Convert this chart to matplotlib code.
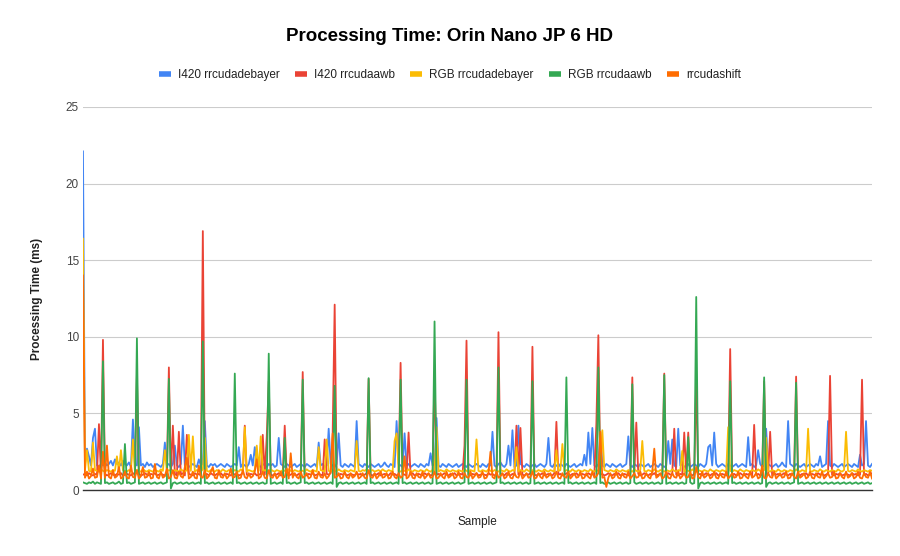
import numpy as np
import matplotlib.pyplot as plt

plt.rcParams['font.family'] = ['Liberation Sans', 'DejaVu Sans']

# per-sample processing time (ms) (396 samples)
i420_debayer = [
    22.1, 1.7, 2.7, 2.2, 1.6, 3.4, 4.0, 1.6, 1.5, 1.7, 1.6, 1.8, 1.6, 1.7, 1.9, 1.6, 2.0, 1.7, 1.8, 1.6, 1.9, 1.7,
    1.6, 1.8, 1.5, 4.6, 1.7, 1.6, 4.1, 1.6, 1.7, 1.5, 1.8, 1.6, 1.7, 1.5, 1.6, 1.7, 1.6, 1.5, 1.7, 3.1, 1.6, 1.7,
    1.5, 1.7, 2.9, 1.6, 1.5, 1.7, 4.2, 1.6, 1.7, 1.5, 1.6, 1.7, 1.6, 1.5, 2.0, 1.6, 1.7, 4.5, 1.6, 1.5, 1.7, 1.6,
    1.7, 1.5, 1.6, 1.7, 1.6, 1.5, 1.7, 1.6, 1.5, 1.6, 1.7, 1.6, 2.8, 1.5, 1.7, 1.6, 1.5, 1.7, 2.3, 1.6, 2.8, 1.7,
    1.6, 1.5, 1.7, 1.6, 1.5, 1.7, 1.6, 1.7, 1.5, 1.6, 3.4, 1.7, 1.6, 1.5, 1.7, 1.6, 1.5, 1.6, 1.7, 1.5, 1.6, 1.7,
    1.6, 1.5, 1.7, 1.6, 1.5, 1.6, 1.7, 1.5, 3.1, 1.6, 1.7, 1.5, 1.6, 4.0, 1.7, 1.6, 1.5, 1.7, 3.7, 1.6, 1.5, 1.7,
    1.6, 1.5, 1.7, 1.6, 1.5, 4.5, 1.7, 1.6, 1.5, 1.7, 1.6, 1.5, 1.7, 1.6, 1.5, 1.6, 1.7, 1.5, 1.6, 1.8, 1.6, 1.5,
    1.7, 1.6, 1.5, 4.5, 1.7, 1.6, 1.5, 3.7, 1.6, 1.7, 1.5, 1.6, 1.7, 1.6, 1.5, 1.7, 1.6, 1.5, 1.7, 1.6, 2.4, 1.6,
    1.7, 4.7, 1.6, 1.5, 1.7, 1.6, 1.5, 1.7, 1.6, 1.5, 1.6, 1.7, 1.5, 1.6, 1.7, 1.6, 1.5, 1.7, 1.6, 1.5, 1.6, 1.7,
    1.6, 1.5, 1.7, 1.6, 1.5, 1.7, 1.6, 3.8, 1.6, 1.5, 1.7, 1.8, 1.6, 1.5, 1.7, 2.9, 1.6, 3.9, 1.5, 1.6, 4.2, 1.7,
    1.6, 1.5, 1.7, 1.6, 1.5, 1.6, 1.7, 1.5, 1.6, 1.7, 1.6, 1.5, 1.7, 3.4, 1.6, 1.5, 1.7, 1.6, 1.5, 1.7, 1.6, 1.5,
    1.7, 1.6, 1.5, 1.6, 1.7, 1.5, 1.6, 1.7, 1.6, 2.3, 1.6, 3.75, 1.7, 4.05, 1.6, 1.5, 1.7, 3.8, 1.6, 1.5, 1.7, 1.6,
    1.5, 1.7, 1.6, 1.5, 1.6, 1.7, 1.5, 1.6, 1.7, 3.5, 1.6, 1.5, 1.7, 1.6, 1.5, 1.7, 1.6, 1.5, 1.6, 1.7, 1.5, 1.6,
    1.7, 1.6, 1.5, 1.7, 1.6, 1.5, 1.6, 3.2, 1.7, 3.3, 1.6, 1.5, 4.0, 1.6, 1.7, 1.5, 1.6, 1.7, 1.5, 1.6, 1.7, 1.6,
    1.5, 1.7, 1.6, 1.5, 1.7, 2.8, 2.95, 1.6, 3.75, 1.7, 1.5, 1.6, 1.7, 1.6, 1.5, 1.7, 1.6, 1.5, 1.6, 1.7, 1.5, 1.6,
    1.7, 1.6, 1.5, 3.45, 1.6, 1.7, 1.5, 1.6, 2.6, 1.7, 1.5, 1.6, 4.0, 1.7, 1.6, 1.5, 1.6, 1.7, 1.5, 1.6, 1.8, 1.6,
    1.5, 4.5, 1.7, 1.6, 1.5, 1.7, 1.6, 1.5, 1.6, 1.7, 1.5, 1.6, 1.7, 1.6, 1.5, 1.7, 1.6, 2.2, 1.5, 1.6, 1.7, 4.5,
    1.6, 1.5, 1.7, 1.6, 1.5, 1.6, 1.7, 1.5, 1.6, 1.7, 1.6, 1.5, 1.7, 1.6, 1.5, 2.3, 1.6, 1.7, 4.5, 1.6, 1.5, 1.7,
]

i420_awb = [
    1.0, 1.05, 0.95, 1.1, 1.0, 0.95, 1.05, 1.0, 4.3, 1.0, 9.8, 1.05, 0.95, 1.0, 1.1, 1.0, 0.95, 1.05, 1.0, 1.1, 0.95, 1.0,
    1.05, 1.0, 0.95, 1.1, 1.0, 7.5, 1.05, 0.95, 1.0, 1.1, 1.0, 0.95, 1.05, 1.0, 1.1, 0.95, 1.0, 1.05, 1.0, 0.95, 1.1, 8.0,
    1.0, 4.2, 1.05, 0.95, 3.8, 1.0, 1.1, 0.95, 3.6, 1.05, 1.0, 0.95, 1.1, 1.0, 1.05, 0.95, 16.9, 1.0, 1.05, 0.95, 1.1, 1.0,
    0.95, 1.05, 1.0, 1.1, 0.95, 1.0, 1.05, 1.0, 0.95, 1.1, 1.0, 1.05, 0.95, 1.0, 1.1, 4.2, 1.0, 0.95, 1.05, 1.0, 1.1, 0.95,
    1.0, 1.05, 3.6, 1.0, 3.5, 7.1, 1.0, 0.95, 1.05, 1.0, 1.1, 0.95, 1.0, 4.2, 1.05, 0.95, 1.0, 1.1, 1.0, 0.95, 1.05, 1.0,
    7.7, 1.0, 0.95, 1.05, 1.0, 1.1, 0.95, 1.0, 1.05, 1.0, 0.95, 3.3, 1.05, 1.0, 1.1, 3.7, 12.1, 1.0, 0.95, 1.05, 1.0, 1.1,
    0.95, 1.0, 1.05, 1.0, 0.95, 1.1, 1.0, 1.05, 0.95, 1.0, 1.1, 7.25, 1.0, 0.95, 1.05, 1.0, 1.1, 0.95, 1.0, 1.05, 1.0, 0.95,
    1.1, 1.0, 1.05, 0.95, 1.0, 8.3, 1.05, 1.0, 0.95, 3.75, 1.0, 1.1, 0.95, 1.0, 1.05, 1.0, 0.95, 1.1, 1.0, 1.05, 0.95, 1.0,
    7.7, 1.0, 1.05, 0.95, 1.0, 1.1, 1.0, 0.95, 1.05, 1.0, 1.1, 0.95, 1.0, 1.05, 1.0, 2.9, 9.75, 1.0, 0.95, 1.05, 1.0, 1.1,
    0.95, 1.0, 1.05, 1.0, 0.95, 1.1, 1.0, 1.05, 0.95, 1.0, 10.3, 1.0, 1.05, 0.95, 1.1, 1.0, 0.95, 1.05, 1.0, 4.2, 1.0, 4.05,
    1.0, 0.95, 1.05, 1.0, 1.1, 9.35, 1.0, 0.95, 1.05, 1.0, 1.1, 0.95, 1.0, 1.05, 1.0, 0.95, 1.1, 4.45, 1.0, 1.05, 0.95, 1.0,
    1.1, 1.0, 0.95, 1.05, 1.0, 1.1, 0.95, 1.0, 1.05, 1.0, 0.95, 1.1, 1.0, 1.05, 0.95, 4.3, 10.1, 1.0, 1.05, 0.95, 1.0, 1.1,
    1.0, 0.95, 1.05, 1.0, 1.1, 0.95, 1.0, 1.05, 1.0, 0.95, 1.1, 7.35, 1.0, 4.4, 1.05, 0.95, 1.0, 1.1, 1.0, 0.95, 1.05, 1.0,
    1.1, 0.95, 1.0, 1.05, 1.0, 7.6, 0.95, 1.1, 1.0, 1.05, 4.0, 1.0, 0.95, 1.05, 1.0, 3.75, 1.1, 3.75, 1.0, 0.95, 1.05, 7.2,
    1.0, 1.05, 0.95, 1.0, 1.1, 1.0, 0.95, 1.05, 1.0, 1.1, 0.95, 1.0, 1.05, 1.0, 0.95, 1.1, 9.2, 1.0, 1.05, 0.95, 1.0, 1.1,
    1.0, 0.95, 1.05, 1.0, 1.1, 0.95, 4.25, 1.0, 1.05, 0.95, 1.0, 7.1, 1.05, 1.0, 3.8, 0.95, 1.1, 1.0, 1.05, 0.95, 1.0, 1.1,
    1.0, 0.95, 1.05, 1.0, 1.1, 7.4, 1.0, 0.95, 1.05, 1.0, 1.1, 0.95, 1.0, 1.05, 1.0, 0.95, 1.1, 1.0, 1.05, 0.95, 1.0, 1.1,
    7.45, 1.0, 0.95, 1.05, 1.0, 1.1, 0.95, 1.0, 1.05, 1.0, 0.95, 1.1, 1.0, 1.05, 0.95, 1.0, 7.2, 1.0, 1.05, 0.95, 1.0, 1.1,
]

rgb_debayer = [
    16.4, 1.3, 2.6, 1.25, 1.2, 3.1, 1.3, 1.25, 1.2, 1.35, 1.25, 1.2, 1.3, 1.25, 1.2, 1.3, 1.25, 2.2, 1.2, 2.6, 1.3, 1.25,
    1.2, 1.3, 1.25, 3.3, 1.2, 1.3, 1.25, 1.2, 1.35, 1.25, 1.2, 1.3, 1.25, 1.2, 1.3, 1.25, 1.2, 1.35, 1.25, 2.6, 1.2, 1.3,
    1.25, 1.2, 1.3, 1.25, 1.2, 1.35, 1.25, 1.2, 1.3, 3.6, 1.25, 3.5, 1.2, 1.3, 1.25, 1.2, 1.35, 3.4, 1.25, 1.2, 1.3, 1.25,
    1.2, 1.3, 1.25, 1.2, 1.35, 1.25, 1.2, 1.3, 1.25, 1.2, 1.3, 1.25, 1.2, 1.35, 1.25, 4.1, 1.2, 1.3, 1.25, 1.2, 1.3, 2.9,
    1.25, 3.5, 1.2, 1.3, 1.25, 1.2, 1.35, 1.25, 1.2, 1.3, 1.25, 1.2, 1.3, 1.25, 1.2, 1.35, 1.25, 1.2, 1.3, 1.25, 1.2, 1.3,
    1.25, 1.2, 1.35, 1.25, 1.2, 1.3, 1.25, 1.2, 2.8, 1.3, 1.25, 1.2, 3.3, 1.25, 1.2, 1.3, 1.25, 1.2, 1.35, 1.25, 1.2, 1.3,
    1.25, 1.2, 1.3, 1.25, 1.2, 3.2, 1.25, 1.2, 1.3, 1.25, 1.35, 1.2, 1.25, 1.3, 1.2, 1.25, 1.3, 1.2, 1.35, 1.25, 1.2, 1.3,
    1.25, 1.2, 3.2, 3.7, 1.25, 1.2, 1.3, 1.25, 1.2, 1.35, 1.25, 1.2, 1.3, 1.25, 1.2, 1.3, 1.25, 1.2, 1.35, 1.25, 1.2, 1.3,
    1.25, 4.1, 1.2, 1.3, 1.25, 1.2, 1.35, 1.25, 1.2, 1.3, 1.25, 1.2, 1.3, 1.25, 1.2, 1.35, 1.25, 1.2, 1.3, 1.25, 1.2, 3.3,
    1.25, 1.2, 1.3, 1.25, 1.2, 1.35, 1.25, 1.2, 1.3, 1.25, 1.2, 1.3, 1.25, 1.2, 1.35, 1.25, 1.2, 1.3, 1.25, 2.8, 1.2, 1.3,
    1.25, 1.2, 1.35, 1.25, 1.2, 1.3, 1.25, 1.2, 1.3, 1.25, 1.2, 1.35, 1.25, 1.2, 1.3, 1.25, 1.2, 2.6, 1.25, 1.3, 3.0, 1.2,
    1.3, 1.25, 1.2, 1.35, 1.25, 1.2, 1.3, 1.25, 1.2, 1.3, 1.25, 1.2, 1.35, 1.25, 1.2, 1.3, 1.25, 1.2, 3.9, 1.3, 1.25, 1.2,
    1.3, 1.25, 1.2, 1.35, 1.25, 1.2, 1.3, 1.25, 1.2, 1.3, 1.25, 1.2, 1.35, 1.25, 1.2, 1.3, 3.2, 1.25, 1.2, 1.3, 1.25, 1.2,
    1.35, 1.25, 1.2, 1.3, 1.25, 1.2, 1.3, 1.25, 1.2, 1.35, 1.25, 1.2, 1.3, 1.25, 2.55, 1.2, 1.3, 1.25, 1.2, 1.35, 1.25, 1.2,
    1.3, 1.25, 1.2, 1.3, 1.25, 1.2, 1.35, 1.25, 1.2, 1.3, 1.25, 1.2, 1.3, 1.25, 1.2, 4.1, 1.25, 1.2, 1.3, 1.25, 1.2, 1.35,
    1.25, 1.2, 1.3, 1.25, 1.2, 1.3, 1.25, 1.2, 1.35, 1.25, 1.2, 1.3, 3.4, 1.25, 1.2, 1.3, 1.25, 1.2, 1.35, 1.25, 1.2, 1.3,
    1.25, 1.2, 1.3, 1.25, 1.2, 1.35, 1.25, 1.2, 1.3, 1.25, 1.2, 4.0, 1.25, 1.2, 1.3, 1.25, 1.2, 1.35, 1.25, 1.2, 1.3, 1.25,
    1.2, 1.3, 1.25, 1.2, 1.35, 1.25, 1.2, 1.3, 3.8, 1.25, 1.2, 1.3, 1.25, 1.2, 1.35, 1.25, 1.2, 1.3, 1.25, 1.2, 1.3, 1.25,
]

rgb_awb = [
    0.5, 0.45, 0.4, 0.5, 0.45, 0.55, 0.4, 0.5, 0.45, 0.4, 8.4, 0.45, 0.5, 0.4, 0.45, 0.5, 0.4, 0.45, 0.55, 0.4, 0.45, 3.0,
    0.45, 0.5, 0.4, 0.45, 0.5, 9.9, 0.4, 0.45, 0.5, 0.4, 0.45, 0.5, 0.4, 0.45, 0.5, 0.4, 0.45, 0.5, 0.4, 0.45, 0.5, 7.25,
    0.1, 0.45, 0.5, 0.4, 0.45, 0.5, 0.4, 0.45, 0.5, 0.4, 0.45, 0.5, 0.4, 0.45, 0.5, 0.4, 9.7, 0.45, 0.5, 0.4, 0.45, 0.5,
    0.4, 0.45, 0.5, 0.4, 0.45, 0.5, 0.4, 0.45, 0.5, 0.4, 7.6, 0.45, 0.5, 0.4, 0.45, 0.5, 0.4, 0.45, 0.5, 0.4, 0.45, 0.5,
    0.4, 0.45, 0.5, 0.4, 0.45, 8.9, 0.4, 0.45, 0.5, 0.4, 0.45, 0.5, 0.4, 3.4, 0.45, 0.5, 0.4, 0.45, 0.5, 0.4, 0.45, 0.5,
    7.2, 0.45, 0.5, 0.4, 0.45, 0.5, 0.4, 0.45, 0.5, 0.4, 0.45, 0.5, 0.4, 0.45, 0.5, 0.4, 6.8, 0.2, 0.45, 0.5, 0.4, 0.45,
    0.5, 0.4, 0.45, 0.5, 0.4, 0.45, 0.5, 0.4, 0.45, 0.5, 0.4, 7.3, 0.45, 0.5, 0.4, 0.45, 0.5, 0.4, 0.45, 0.5, 0.4, 0.45,
    0.5, 0.4, 0.45, 0.5, 0.4, 7.2, 0.45, 0.5, 0.4, 0.45, 0.5, 0.4, 0.45, 0.5, 0.4, 0.45, 0.5, 0.4, 0.45, 0.5, 0.4, 0.45,
    11.0, 0.4, 0.45, 0.5, 0.4, 0.45, 0.5, 0.4, 0.45, 0.5, 0.4, 0.45, 0.5, 0.4, 0.45, 0.5, 7.2, 0.4, 0.45, 0.5, 0.4, 0.45,
    0.5, 0.4, 0.45, 0.5, 0.4, 0.45, 0.5, 0.4, 0.45, 0.5, 8.0, 0.45, 0.5, 0.4, 0.45, 0.5, 0.4, 0.45, 0.5, 0.4, 0.45, 0.5,
    0.4, 0.45, 0.5, 0.4, 0.45, 7.1, 0.4, 0.45, 0.5, 0.4, 0.45, 0.5, 0.4, 0.45, 0.5, 0.4, 0.45, 0.5, 0.4, 0.45, 0.5, 0.4,
    7.35, 0.45, 0.5, 0.4, 0.45, 0.5, 0.4, 0.45, 0.5, 0.4, 0.45, 0.5, 0.4, 0.45, 0.5, 0.4, 8.0, 0.45, 0.5, 0.4, 0.45, 0.5,
    0.4, 0.45, 0.5, 0.4, 0.45, 0.5, 0.4, 0.45, 0.5, 0.4, 0.45, 6.9, 0.5, 0.4, 0.45, 0.5, 0.4, 0.45, 0.5, 0.4, 0.45, 0.5,
    0.4, 0.45, 0.5, 0.4, 0.45, 7.5, 0.4, 0.45, 0.5, 0.4, 0.45, 0.5, 0.4, 0.45, 0.5, 0.4, 0.45, 3.45, 0.5, 0.4, 0.45, 12.6,
    0.1, 0.45, 0.5, 0.4, 0.45, 0.5, 0.4, 0.45, 0.5, 0.4, 0.45, 0.5, 0.4, 0.45, 0.5, 0.4, 7.1, 0.45, 0.5, 0.4, 0.45, 0.5,
    0.4, 0.45, 0.5, 0.4, 0.45, 0.5, 0.4, 0.45, 0.5, 0.4, 0.45, 7.35, 0.2, 0.45, 0.5, 0.4, 0.45, 0.5, 0.4, 0.45, 0.5, 0.4,
    0.45, 0.5, 0.4, 0.45, 0.5, 7.0, 0.4, 0.45, 0.5, 0.4, 0.45, 0.5, 0.4, 0.45, 0.5, 0.4, 0.45, 0.5, 0.4, 0.45, 0.5, 0.4,
    0.45, 0.5, 0.4, 0.45, 0.5, 0.4, 0.45, 0.5, 0.4, 0.45, 0.5, 0.4, 0.45, 0.5, 0.4, 0.45, 0.5, 0.4, 0.45, 0.5, 0.4, 0.45,
]

shift = [
    14.0, 0.8, 1.2, 0.75, 0.9, 1.4, 0.8, 0.85, 1.6, 0.75, 2.5, 0.8, 2.9, 0.85, 0.75, 1.3, 0.8, 0.9, 1.5, 0.75, 0.85, 1.2,
    0.8, 0.75, 1.6, 0.85, 0.8, 1.3, 0.75, 0.9, 1.5, 0.8, 0.85, 1.2, 0.75, 0.8, 1.7, 0.85, 0.75, 1.2, 0.8, 0.9, 1.4, 0.75,
    0.85, 1.3, 0.8, 0.75, 1.2, 0.9, 0.8, 1.5, 2.1, 0.75, 0.85, 1.2, 0.8, 0.75, 1.6, 0.85, 0.8, 1.3, 0.75, 0.9, 1.2, 1.5,
    0.8, 0.75, 1.3, 0.85, 0.8, 1.1, 0.75, 0.9, 1.4, 0.8, 0.85, 1.2, 0.75, 0.8, 1.3, 0.85, 0.75, 1.1, 0.8, 0.9, 1.2, 2.0,
    0.75, 0.85, 1.2, 0.8, 0.75, 1.3, 0.85, 0.8, 1.1, 0.75, 0.9, 1.2, 0.8, 0.85, 1.4, 0.75, 2.4, 0.8, 1.1, 0.85, 0.75, 1.2,
    0.8, 0.9, 1.1, 0.75, 0.85, 1.3, 0.8, 0.75, 1.2, 0.85, 0.8, 1.1, 0.75, 0.9, 1.2, 3.7, 0.8, 0.85, 1.1, 0.75, 0.8, 1.2,
    0.85, 0.75, 1.1, 0.8, 0.9, 1.2, 0.75, 0.85, 1.1, 0.8, 0.75, 1.3, 0.85, 0.8, 1.1, 0.75, 0.9, 1.2, 0.8, 0.85, 1.1, 0.75,
    0.8, 1.2, 0.85, 0.75, 1.1, 0.8, 0.9, 2.2, 0.75, 0.85, 1.2, 0.8, 0.75, 1.1, 0.85, 0.8, 1.2, 0.75, 0.9, 1.1, 0.8, 0.85,
    1.2, 0.75, 0.8, 1.1, 0.85, 0.75, 1.2, 0.8, 0.9, 1.1, 0.75, 0.85, 1.2, 0.8, 0.75, 1.1, 0.85, 0.8, 1.2, 0.75, 0.9, 1.1,
    0.8, 0.85, 1.2, 0.75, 0.8, 1.1, 2.5, 0.85, 0.75, 1.2, 0.8, 0.9, 1.1, 0.75, 0.85, 1.2, 0.8, 0.75, 1.1, 0.85, 0.8, 1.2,
    0.75, 0.9, 1.1, 0.8, 0.85, 1.2, 0.75, 0.8, 1.1, 0.85, 0.75, 1.2, 0.8, 0.9, 1.1, 0.75, 0.85, 1.2, 0.8, 0.75, 1.1, 0.85,
    0.8, 1.2, 0.75, 0.9, 1.1, 0.8, 0.85, 1.2, 0.75, 0.8, 1.1, 0.85, 0.75, 1.2, 0.8, 0.9, 1.1, 3.8, 0.8, 0.85, 0.2, 0.8,
    1.1, 0.75, 0.85, 1.2, 0.8, 0.75, 1.1, 0.85, 0.8, 1.2, 0.75, 0.9, 1.1, 0.8, 0.85, 1.2, 0.75, 0.8, 1.1, 0.85, 0.75, 1.2,
    2.7, 0.8, 0.9, 1.1, 0.75, 0.85, 1.2, 0.8, 0.75, 1.1, 0.85, 0.8, 1.2, 0.75, 0.9, 1.1, 0.8, 0.85, 1.2, 0.75, 0.8, 1.5,
    0.85, 0.75, 1.2, 0.8, 0.9, 1.1, 0.75, 0.85, 1.2, 0.8, 0.75, 1.1, 0.85, 0.8, 1.2, 0.75, 0.9, 1.1, 0.8, 0.85, 1.2, 0.75,
    0.8, 1.1, 0.85, 0.75, 1.2, 0.8, 0.9, 1.1, 0.75, 0.85, 1.6, 0.8, 0.75, 1.1, 0.85, 0.8, 1.2, 0.75, 0.9, 1.1, 0.8, 0.85,
    1.2, 0.75, 0.8, 1.1, 0.85, 0.75, 1.2, 0.8, 0.9, 1.1, 0.75, 0.85, 1.2, 0.8, 0.75, 1.1, 0.85, 0.8, 1.2, 0.75, 0.9, 1.1,
    0.8, 0.85, 1.2, 0.75, 0.8, 1.1, 0.85, 0.75, 1.2, 0.8, 0.9, 1.1, 0.75, 0.85, 1.2, 0.8, 0.75, 1.1, 0.85, 0.8, 1.2, 0.75,
]

series = [
    ('I420 rrcudadebayer', i420_debayer, '#4285F4'),
    ('I420 rrcudaawb', i420_awb, '#EA4335'),
    ('RGB rrcudadebayer', rgb_debayer, '#FBBC04'),
    ('RGB rrcudaawb', rgb_awb, '#34A853'),
    ('rrcudashift', shift, '#FF6D01'),
]

fig = plt.figure(figsize=(9, 5.56), dpi=100)
ax = fig.add_axes([0.0922, 0.1187, 0.8767, 0.6889])

for name, vals, color in series:
    x = np.arange(len(vals))
    ax.plot(x, vals, color=color, lw=1.3, label=name)

ax.set_xlim(0, len(i420_debayer) - 1)
ax.set_ylim(0, 25)
ax.set_yticks([0, 5, 10, 15, 20, 25])
ax.set_xticks([])
ax.grid(axis='y', color='#cccccc', lw=0.8)
ax.set_axisbelow(True)
for s in ['top', 'right', 'left']:
    ax.spines[s].set_visible(False)
ax.spines['bottom'].set_color('#333333')
ax.spines['bottom'].set_linewidth(1.0)
ax.tick_params(axis='y', length=0, labelsize=8.5, labelcolor='#444444', pad=3)

ax.set_ylabel('Processing Time (ms)', fontsize=8.5, fontweight='bold', color='#222222', labelpad=16)
ax.set_xlabel('Sample', fontsize=8.5, color='#222222', labelpad=19)

fig.text(0.5, 0.935, 'Processing Time: Orin Nano JP 6 HD', ha='center', va='center',
         fontsize=13.5, fontweight='bold', color='#000000')

leg = fig.legend(loc='center', bbox_to_anchor=(0.5, 0.865), ncol=5, frameon=False,
                 fontsize=8.5, handlelength=1.0, handletextpad=0.6, columnspacing=1.3)
for line in leg.get_lines():
    line.set_linewidth(4)
    line.set_solid_capstyle('butt')
for txt in leg.get_texts():
    txt.set_color('#222222')

fig.savefig('out.png', dpi=100, facecolor='white')
